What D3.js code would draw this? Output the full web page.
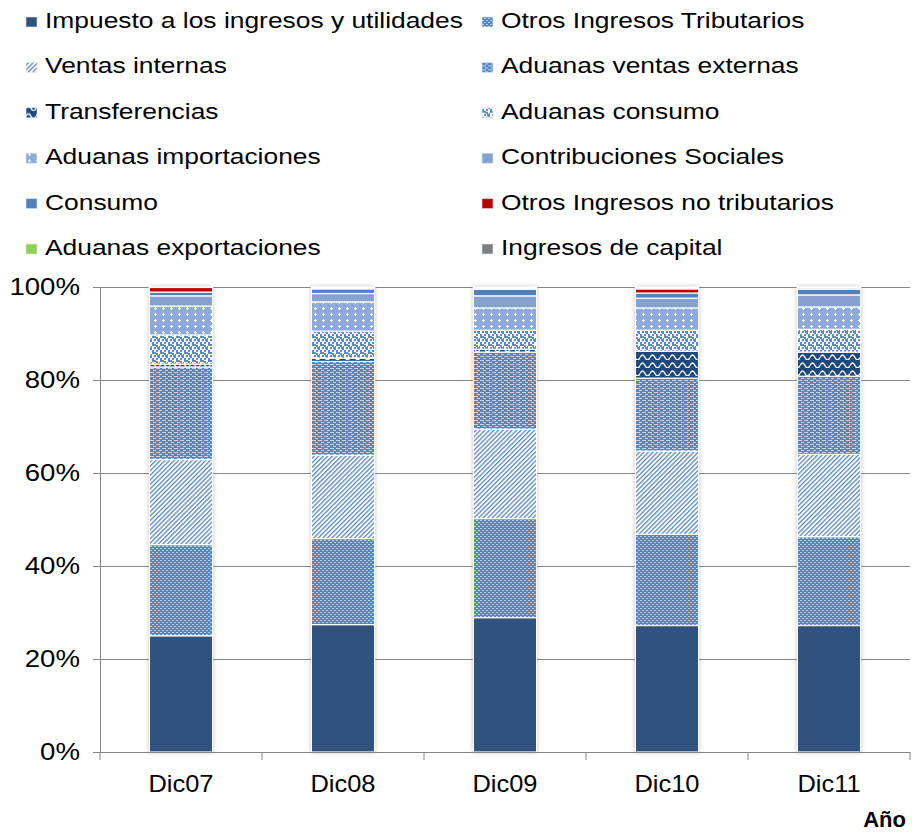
<!DOCTYPE html>
<html>
<head>
<meta charset="utf-8">
<script src="https://cdn.jsdelivr.net/npm/d3@7"></script>
<style>
  body { margin: 0; background: #fff; }
  text { font-family: "Liberation Sans", Arial, sans-serif; fill: #000; }
</style>
</head>
<body>
<div id="chart"></div>
<script>
// data (percent of total revenue)
const years = ["Dic07", "Dic08", "Dic09", "Dic10", "Dic11"];
const seriesNames = [
  "Impuesto a los ingresos y utilidades", "Otros Ingresos Tributarios",
  "Ventas internas", "Aduanas ventas externas",
  "Transferencias", "Aduanas consumo",
  "Aduanas importaciones", "Contribuciones Sociales",
  "Consumo", "Otros Ingresos no tributarios",
  "Aduanas exportaciones", "Ingresos de capital"
];
const impuesto      = [25.0, 27.4, 28.9, 27.2, 27.2];
const otrosTrib     = [19.6, 18.5, 21.3, 19.6, 19.1];
const ventasInt     = [18.3, 17.9, 19.2, 17.9, 17.7];
const aduVentasExt  = [19.9, 20.2, 16.6, 15.7, 16.8];
const transferencias= [0.6, 0.7, 0.6, 5.8, 5.2];
const aduConsumo    = [6.3, 5.8, 4.1, 4.5, 4.9];
const aduImport     = [6.2, 6.3, 4.8, 4.8, 4.8];
const contribSoc    = [2.2, 1.8, 2.6, 2.1, 2.6];
const consumo       = [0.8, 1.0, 1.4, 1.1, 1.2];
const otrosNoTrib   = [1.0, 0.2, 0.2, 0.9, 0.3];
const aduExport     = [0.05, 0.1, 0.1, 0.2, 0.1];
const ingCapital    = [0.05, 0.1, 0.2, 0.2, 0.1];
const seriesValues = [impuesto, otrosTrib, ventasInt, aduVentasExt, transferencias,
  aduConsumo, aduImport, contribSoc, consumo, otrosNoTrib, aduExport, ingCapital];
const yTicks = [0, 0.2, 0.4, 0.6, 0.8, 1];

function drawChart() {
  // dimensions
  const w = 912;
  const h = 833;
  const padTop = 287;
  const padBot = 81;
  const padLeft = 100;
  const padRight = 2;

  const svg = d3.select("#chart").append("svg")
    .attr("width", w)
    .attr("height", h);

  // fill patterns (Excel style)
  const defs = svg.append("defs");
  const blue = "#4f81bd";

  // small dots
  let p = defs.append("pattern").attr("id", "p-oit").attr("patternUnits", "userSpaceOnUse")
    .attr("width", 4).attr("height", 4);
  p.append("rect").attr("width", 4).attr("height", 4).attr("fill", "#5386c3");
  p.append("rect").attr("x", 0).attr("y", 0).attr("width", 2).attr("height", 1).attr("fill", "#bcd0ea");
  p.append("rect").attr("x", 2).attr("y", 2).attr("width", 2).attr("height", 1).attr("fill", "#bcd0ea");

  // upward diagonal
  p = defs.append("pattern").attr("id", "p-vi").attr("patternUnits", "userSpaceOnUse")
    .attr("width", 3.2).attr("height", 3.2).attr("patternTransform", "rotate(45)");
  p.append("rect").attr("width", 3.2).attr("height", 3.2).attr("fill", "#fff");
  p.append("rect").attr("width", 1.3).attr("height", 3.2).attr("fill", "#5a89c4");

  // dashes
  p = defs.append("pattern").attr("id", "p-ave").attr("patternUnits", "userSpaceOnUse")
    .attr("width", 6).attr("height", 4);
  p.append("rect").attr("width", 6).attr("height", 4).attr("fill", "#5386c3");
  p.append("rect").attr("x", 0).attr("y", 0).attr("width", 4).attr("height", 1).attr("fill", "#c6d7ee");
  p.append("rect").attr("x", 3).attr("y", 2).attr("width", 4).attr("height", 1).attr("fill", "#c6d7ee");

  // wave
  p = defs.append("pattern").attr("id", "p-tr").attr("patternUnits", "userSpaceOnUse")
    .attr("width", 10).attr("height", 8);
  p.append("rect").attr("width", 10).attr("height", 8).attr("fill", "#1f497d");
  p.append("path").attr("d", "M0,5.5 Q2.5,0.5 5,5.5 T10,5.5").attr("fill", "none")
    .attr("stroke", "#fff").attr("stroke-width", 1.3);

  // confetti
  p = defs.append("pattern").attr("id", "p-ac").attr("patternUnits", "userSpaceOnUse")
    .attr("width", 8).attr("height", 8);
  p.append("rect").attr("width", 8).attr("height", 8).attr("fill", "#fff");
  [[0, 0], [4, 1], [2, 3], [6, 4], [0, 6], [4, 6], [7, 2], [2, 0], [5, 3]].forEach(([x, y]) =>
    p.append("rect").attr("x", x).attr("y", y).attr("width", 2).attr("height", 2).attr("fill", "#5a89c4"));

  // plus grid
  p = defs.append("pattern").attr("id", "p-ai").attr("patternUnits", "userSpaceOnUse")
    .attr("width", 8).attr("height", 6);
  p.append("rect").attr("width", 8).attr("height", 6).attr("fill", "#8eaadb");
  p.append("rect").attr("x", 2).attr("y", 2).attr("width", 3).attr("height", 1).attr("fill", "#fff");
  p.append("rect").attr("x", 3).attr("y", 1).attr("width", 1).attr("height", 3).attr("fill", "#fff");

  const fills = ["#31527c", "url(#p-oit)", "url(#p-vi)", "url(#p-ave)", "url(#p-tr)",
    "url(#p-ac)", "url(#p-ai)", "#86a1cf", blue, "#c00000", "#92d050", "#7f7f7f"];
  const color = d3.scaleOrdinal().domain(seriesNames).range(fills);

  // shadow for bars
  defs.append("filter").attr("id", "shadow").attr("x", "-30%").attr("y", "-5%")
    .attr("width", "160%").attr("height", "110%")
    .append("feDropShadow").attr("dx", 0).attr("dy", 0).attr("stdDeviation", 2.2)
    .attr("flood-color", "#000").attr("flood-opacity", 0.35);

  // scales
  const xScale = d3.scaleBand()
    .domain(years)
    .range([padLeft, w - padRight])
    .paddingInner(0.61)
    .paddingOuter(0.305);
  const yScale = d3.scaleLinear()
    .domain([0, 1])
    .range([h - padBot, padTop]);

  // gridlines
  svg.append("g")
    .attr("transform", `translate(${padLeft}, 0)`)
    .call(d3.axisLeft(yScale).tickValues(yTicks.slice(1)).tickSize(-(w - padRight - padLeft)).tickFormat(""))
    .call(g => g.select(".domain").remove())
    .call(g => g.selectAll("line").attr("stroke", "#868686"));

  // stacked data
  const rows = years.map((yr, i) => {
    const r = { year: yr };
    seriesNames.forEach((s, j) => r[s] = seriesValues[j][i]);
    return r;
  });
  const stacked = d3.stack().keys(seriesNames).offset(d3.stackOffsetExpand)(rows);

  // bar shadows
  svg.append("g").selectAll("rect")
    .data(years)
    .join("rect")
    .attr("x", d => xScale(d))
    .attr("y", yScale(1))
    .attr("width", xScale.bandwidth())
    .attr("height", yScale(0) - yScale(1))
    .attr("fill", "#fff")
    .attr("filter", "url(#shadow)");

  // bars
  svg.append("g").selectAll("g")
    .data(stacked)
    .join("g")
    .attr("fill", d => color(d.key))
    .selectAll("rect")
    .data(d => d)
    .join("rect")
    .attr("x", d => xScale(d.data.year))
    .attr("y", d => yScale(d[1]))
    .attr("width", xScale.bandwidth())
    .attr("height", d => Math.max(0, yScale(d[0]) - yScale(d[1])))
    .attr("stroke", "#fff")
    .attr("stroke-width", 1.2);

  // Y axis
  const yAxis = svg.append("g")
    .attr("transform", `translate(${padLeft}, 0)`)
    .call(d3.axisLeft(yScale).tickValues(yTicks).tickSize(7).tickPadding(12).tickFormat(d3.format(".0%")));
  yAxis.selectAll("line, .domain").attr("stroke", "#868686");
  yAxis.selectAll("text")
    .attr("x", 0)
    .attr("transform", "translate(-20, 0) scale(1.15, 1)")
    .attr("font-size", 24).attr("fill", "#000")
    .style("font-family", "'Liberation Sans', Arial, sans-serif");

  // X axis (labels centered, tick marks between categories)
  const xAxis = svg.append("g")
    .attr("transform", `translate(0, ${h - padBot})`)
    .call(d3.axisBottom(xScale).tickSize(0).tickPadding(23));
  xAxis.select(".domain").attr("stroke", "#868686");
  xAxis.selectAll("text")
    .attr("transform", "scale(1.06, 1)")
    .attr("font-size", 24).attr("fill", "#000")
    .style("font-family", "'Liberation Sans', Arial, sans-serif");
  const bounds = d3.range(years.length + 1).map(i => xScale.range()[0] + i * xScale.step());
  xAxis.selectAll(".bound").data(bounds).join("line")
    .attr("class", "bound")
    .attr("x1", d => d).attr("x2", d => d)
    .attr("y1", 0).attr("y2", 8)
    .attr("stroke", "#868686");

  // axis title
  svg.append("text")
    .attr("x", 906).attr("y", 827)
    .attr("text-anchor", "end")
    .attr("font-size", 22)
    .attr("font-weight", "bold")
    .text("Año");

  // legend
  const legend = svg.append("g");
  const items = legend.selectAll("g")
    .data(seriesNames)
    .join("g")
    .attr("transform", (d, i) => `translate(${i % 2 === 0 ? 26 : 482}, ${28 + Math.floor(i / 2) * 45.4})`);
  items.append("rect")
    .attr("x", 0).attr("y", -11)
    .attr("width", 11).attr("height", 10)
    .attr("fill", d => color(d))
    .attr("stroke", "#dde6f2").attr("stroke-width", 0.6);
  items.append("text")
    .attr("transform", "translate(19, 0) scale(1.2, 1)")
    .attr("font-size", 22)
    .text(d => d);
}

document.addEventListener("DOMContentLoaded", () => {
  drawChart();
});
</script>
</body>
</html>
